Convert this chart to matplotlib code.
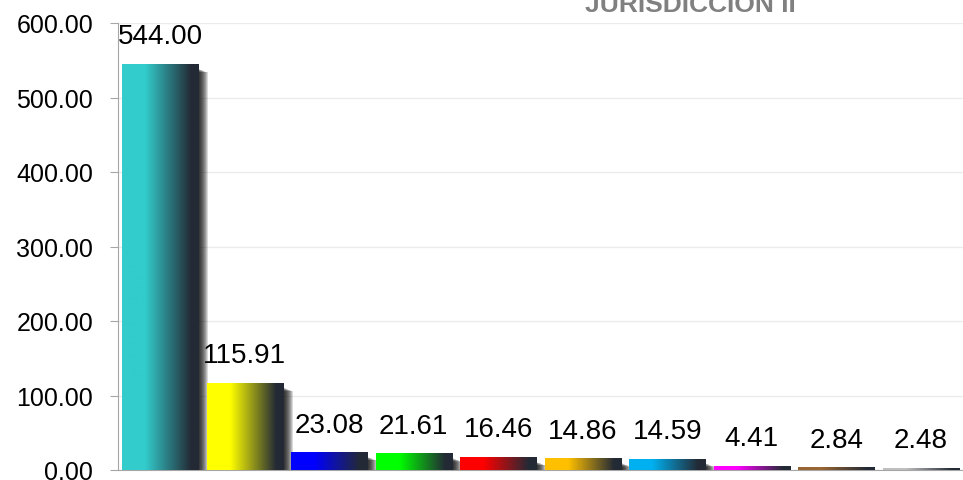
import numpy as np
import matplotlib
matplotlib.use('Agg')
import matplotlib.pyplot as plt
from matplotlib.colors import to_rgb
from matplotlib.patches import Rectangle

categories = ['C1', 'C2', 'C3', 'C4', 'C5', 'C6', 'C7', 'C8', 'C9', 'C10']
values = [544.00, 115.91, 23.08, 21.61, 16.46, 14.86, 14.59, 4.41, 2.84, 2.48]
bar_colors = ['#33CCCC', '#FFFF00', '#0000FF', '#00FF00', '#FF0000',
              '#FFC000', '#00B0F0', '#FF00FF', '#996633', '#BFBFBF']
yticks = [0, 100, 200, 300, 400, 500, 600]
title = 'JURISDICCION II'

plt.rcParams['font.family'] = ['Liberation Sans', 'DejaVu Sans']

fig = plt.figure(figsize=(9.63, 4.81), dpi=100)
ax = fig.add_axes([118 / 963, 10 / 481, 845 / 963, 447 / 481])

dark = np.array(to_rgb('#232A35'))
width = 0.9
px_x = 1 / 84.5      # one pixel in data units along x
px_y = 600 / 447.0   # one pixel in data units along y
t = np.linspace(0, 1, 200)
mix = np.clip((t - 0.3) / 0.6, 0, 1)

for i, (v, c) in enumerate(zip(values, bar_colors)):
    x0 = i - width / 2
    x1 = i + width / 2
    # blurred shadow to the right
    for k in range(10):
        off = (1 + k) * px_x
        ax.add_patch(Rectangle((x0 + off, -2 * px_y), width,
                               v - 2 * px_y - k * 0.4 * px_y,
                               facecolor='black', edgecolor='none',
                               alpha=0.15, zorder=2))
    base = np.array(to_rgb(c))
    grad = base[None, :] * (1 - mix[:, None]) + dark[None, :] * mix[:, None]
    ax.imshow(grad[None, :, :], extent=[x0, x1, 0, v], aspect='auto',
              zorder=3, interpolation='bilinear')
    ax.annotate('%.2f' % v, xy=(i, v), xytext=(0, 11), textcoords='offset points',
                ha='center', va='bottom', fontsize=20, color='black', zorder=5)

ax.set_xlim(-0.5, len(values) - 0.5)
ax.set_ylim(0, 600)
ax.set_yticks(yticks)
ax.set_yticklabels(['%.2f' % y for y in yticks], fontsize=18)
ax.set_xticks([])
ax.yaxis.grid(True, color='#EBEBEB', linewidth=1)
ax.set_axisbelow(True)
for s in ['top', 'right']:
    ax.spines[s].set_visible(False)
for s in ['left', 'bottom']:
    ax.spines[s].set_color('#A6A6A6')
ax.tick_params(axis='y', direction='out', length=6, color='#A6A6A6', pad=12)

fig.text(0.717, 1 - 12 / 481, title, ha='center', va='baseline',
         fontsize=19, fontweight='bold', color='#808080')

fig.savefig('out.png', dpi=100)
